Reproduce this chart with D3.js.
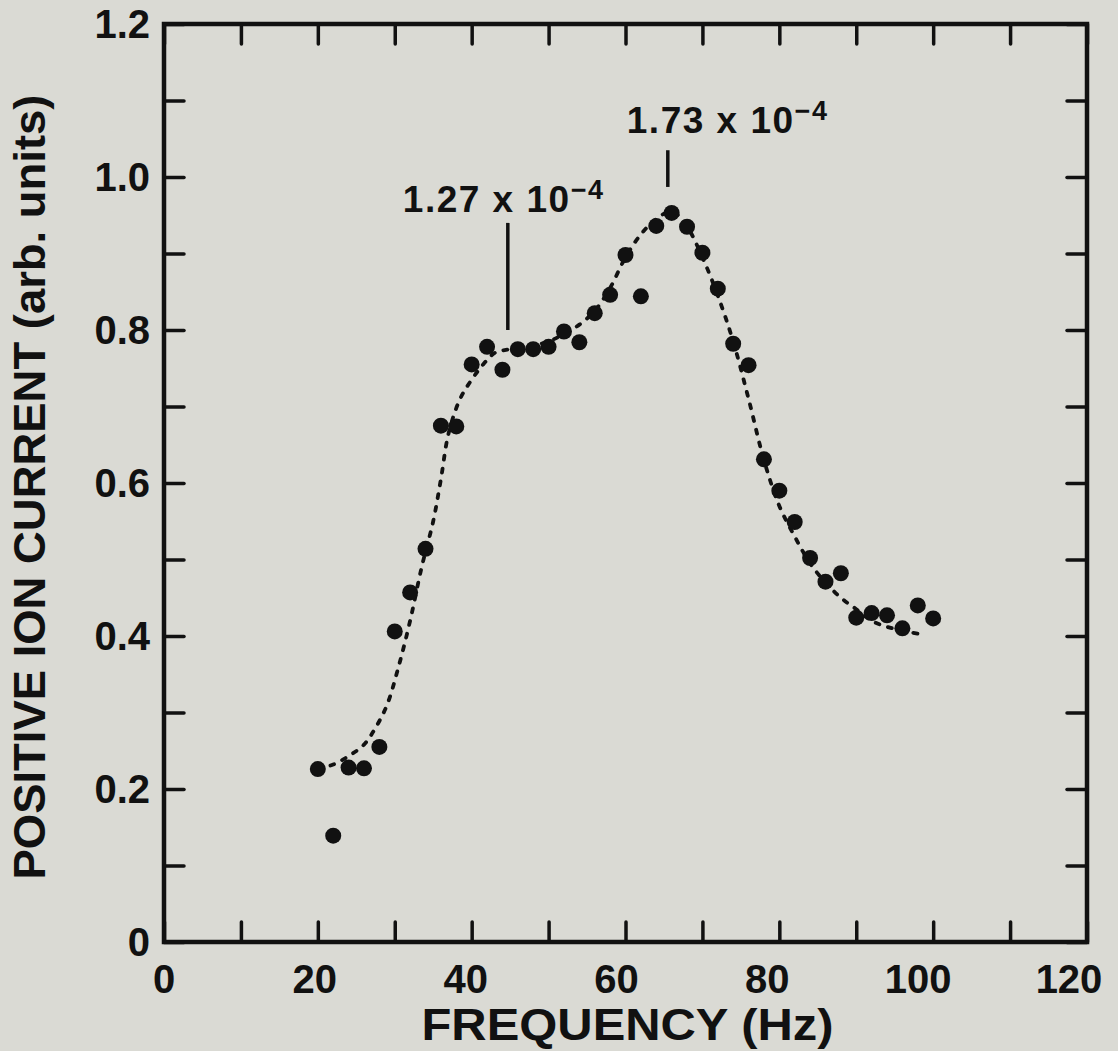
<!DOCTYPE html>
<html>
<head>
<meta charset="utf-8">
<script src="https://cdn.jsdelivr.net/npm/d3@7"></script>
<style>
  html, body { margin: 0; padding: 0; background: #dadad4; }
  svg { display: block; }
  text { font-family: "Liberation Sans", Arial, sans-serif; fill: #111; }
</style>
</head>
<body>
<div id="chart"></div>
<script>
// measured points (Hz, arb. units)
const freq = [20, 22, 24, 26, 28, 30, 32, 34, 36, 38, 40, 42, 44, 46, 48, 50, 52, 54, 56, 58,
    60, 62, 64, 66, 68, 70, 72, 74, 76, 78, 80, 82, 84, 86, 88, 90, 92, 94, 96, 98, 100];
const current = [0.226, 0.139, 0.228, 0.227, 0.255, 0.406, 0.457, 0.514, 0.675, 0.674,
    0.755, 0.778, 0.748, 0.775, 0.775, 0.778, 0.798, 0.784, 0.822, 0.846,
    0.898, 0.844, 0.936, 0.953, 0.935, 0.901, 0.854, 0.782, 0.754, 0.631,
    0.590, 0.549, 0.502, 0.471, 0.482, 0.424, 0.430, 0.427, 0.410, 0.440, 0.423];

// dashed guide curve
const curveX = [20, 22, 24, 26, 27.5, 29, 30.5, 32, 33.5, 35, 36, 37, 38.5, 40, 41.5, 43, 45, 48, 50,
    52, 54, 56, 58, 60, 62, 64, 66, 68, 70, 72, 74, 76, 78, 80, 82, 84, 86, 88, 90, 92, 94, 96, 98.5];
const curveY = [0.226, 0.232, 0.243, 0.258, 0.28, 0.31, 0.36, 0.42, 0.49, 0.55, 0.605, 0.665, 0.71,
    0.735, 0.755, 0.77, 0.775, 0.78, 0.785, 0.795, 0.807, 0.825, 0.855, 0.895, 0.925, 0.945, 0.955,
    0.935, 0.895, 0.845, 0.785, 0.71, 0.63, 0.57, 0.53, 0.495, 0.47, 0.45, 0.435, 0.42, 0.412, 0.407, 0.402];

// tick labels
const xLabels = [0, 20, 40, 60, 80, 100, 120];
const yLabels = [0, 0.2, 0.4, 0.6, 0.8, 1.0, 1.2];

// annotations: label mantissa, position of marker line
const noteText = ["1.27", "1.73"];
const noteFreq = [44.7, 65.5];
const noteLow = [0.80, 0.987];
const noteHigh = [0.94, 1.035];

const margin = {top: 24, right: 31, bottom: 109, left: 164},
    width = 1118 - margin.left - margin.right,
    height = 1051 - margin.top - margin.bottom;

const svg = d3.select("#chart")
    .append("svg")
    .attr("width", 1118)
    .attr("height", 1051)
    .append("g")
    .attr("transform", `translate(${margin.left},${margin.top})`);

const x = d3.scaleLinear().domain([0, 120]).range([0, width]);
const y = d3.scaleLinear().domain([0, 1.2]).range([height, 0]);

const ink = "#111";
const tickLen = 20;

// inward ticks on all four sides
const xTicks = d3.range(0, 121, 10);
const yTicks = d3.range(0, 13).map(d => d / 10);

svg.append("g")
    .attr("transform", `translate(0,${height})`)
    .call(d3.axisBottom(x).tickValues(xTicks).tickSize(-tickLen).tickFormat(""))
    .call(g => g.select(".domain").remove());
svg.append("g")
    .call(d3.axisTop(x).tickValues(xTicks).tickSize(-tickLen).tickFormat(""))
    .call(g => g.select(".domain").remove());
svg.append("g")
    .call(d3.axisLeft(y).tickValues(yTicks).tickSize(-tickLen).tickFormat(""))
    .call(g => g.select(".domain").remove());
svg.append("g")
    .attr("transform", `translate(${width},0)`)
    .call(d3.axisRight(y).tickValues(yTicks).tickSize(-tickLen).tickFormat(""))
    .call(g => g.select(".domain").remove());

svg.selectAll(".tick line")
    .attr("stroke", ink)
    .attr("stroke-width", 3.5)
    .attr("stroke-linecap", "round");

// frame
svg.append("rect")
    .attr("width", width)
    .attr("height", height)
    .attr("fill", "none")
    .attr("stroke", ink)
    .attr("stroke-width", 4.5);

// tick labels (printed labels drift slightly left of their ticks)
svg.selectAll(".xlab")
    .data(xLabels)
    .enter()
    .append("text")
    .attr("x", d => x(d) - d * 0.15)
    .attr("y", height + 51)
    .attr("text-anchor", "middle")
    .style("font-size", "40px")
    .style("font-weight", "bold")
    .text(d => d);

svg.selectAll(".ylab")
    .data(yLabels)
    .enter()
    .append("text")
    .attr("x", -14)
    .attr("y", d => y(d) + 14)
    .attr("text-anchor", "end")
    .style("font-size", "40px")
    .style("font-weight", "bold")
    .text(d => d === 0 ? "0" : d.toFixed(1));

// axis titles
svg.append("text")
    .attr("x", width / 2 + 2)
    .attr("y", height + 98)
    .attr("text-anchor", "middle")
    .attr("textLength", 412)
    .attr("lengthAdjust", "spacingAndGlyphs")
    .style("font-family", "'Liberation Sans Narrow', 'Liberation Sans', Arial, sans-serif")
    .style("font-size", "44px")
    .style("font-weight", "bold")
    .text("FREQUENCY (Hz)");

svg.append("text")
    .attr("transform", `translate(${-119},${height / 2 + 4}) rotate(-90)`)
    .attr("text-anchor", "middle")
    .attr("textLength", 785)
    .attr("lengthAdjust", "spacingAndGlyphs")
    .style("font-family", "'Liberation Sans Narrow', 'Liberation Sans', Arial, sans-serif")
    .style("font-size", "44px")
    .style("font-weight", "bold")
    .text("POSITIVE ION CURRENT (arb. units)");

// dashed curve
const line = d3.line()
    .x(i => x(curveX[i]))
    .y(i => y(curveY[i]))
    .curve(d3.curveCatmullRom.alpha(0.5));

svg.append("path")
    .datum(d3.range(curveX.length))
    .attr("d", line)
    .attr("fill", "none")
    .attr("stroke", ink)
    .attr("stroke-width", 3.8)
    .attr("stroke-linecap", "round")
    .attr("stroke-dasharray", "4 9");

// data points
svg.selectAll("circle")
    .data(freq)
    .enter()
    .append("circle")
    .attr("cx", (d, i) => x(d))
    .attr("cy", (d, i) => y(current[i]))
    .attr("r", 8)
    .attr("fill", ink);

// annotations
const textOffset = [-105, -41];
const textGap = [11, 17];
noteText.forEach((label, i) => {
    const lx = x(noteFreq[i]);
    svg.append("line")
        .attr("x1", lx).attr("x2", lx)
        .attr("y1", y(noteHigh[i])).attr("y2", y(noteLow[i]))
        .attr("stroke", ink)
        .attr("stroke-width", 3.5);
    const t = svg.append("text")
        .attr("x", lx + textOffset[i])
        .attr("y", y(noteHigh[i]) - textGap[i])
        .style("font-size", "37px")
        .style("font-weight", "bold")
        .style("letter-spacing", "1.5px");
    t.append("tspan").text(label + " x 10");
    t.append("tspan")
        .attr("dy", -13)
        .style("font-size", "27px")
        .text("\u22124");
});
</script>
</body>
</html>
